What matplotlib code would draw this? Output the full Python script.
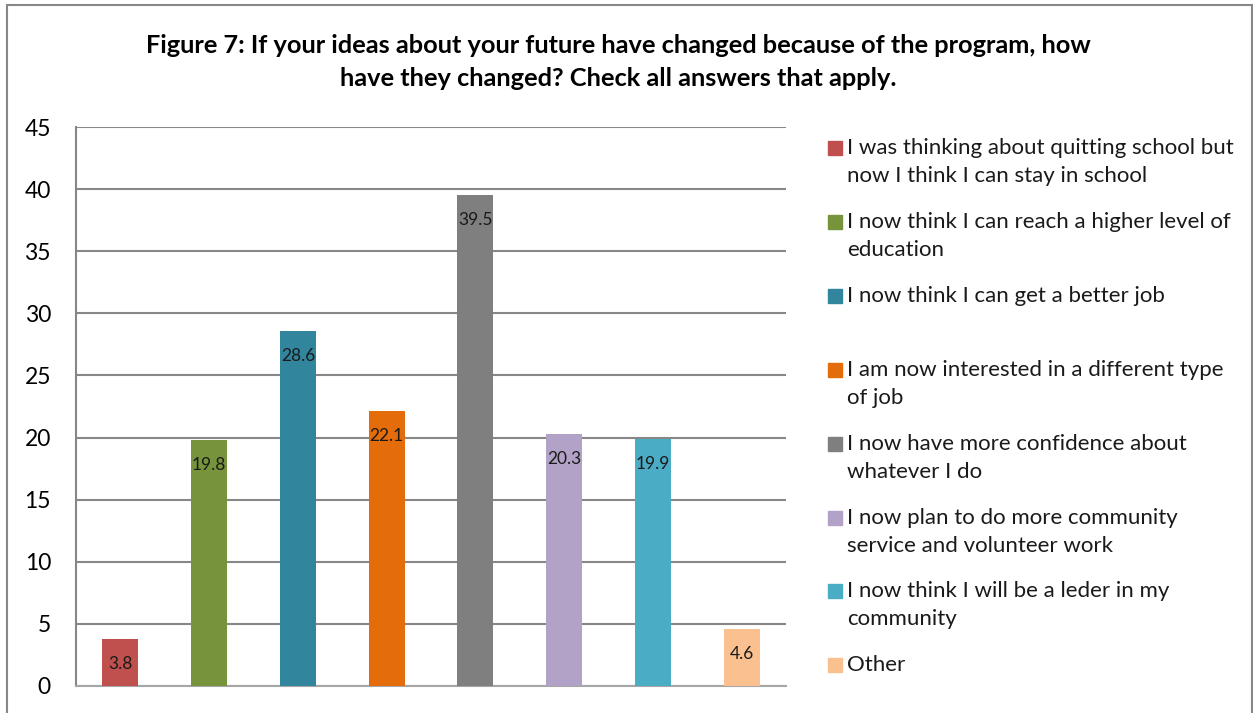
import numpy as np
import matplotlib
matplotlib.use("Agg")
import matplotlib.pyplot as plt
from matplotlib.patches import Rectangle

# data
answers = [
    "I was thinking about quitting school but\nnow I think I can stay in school",
    "I now think I can reach a higher level of\neducation",
    "I now think I can get a better job",
    "I am now interested in a different type\nof job",
    "I now have more confidence about\nwhatever I do",
    "I now plan to do more community\nservice and volunteer work",
    "I now think I will be a leder in my\ncommunity",
    "Other",
]
percents = [3.8, 19.8, 28.6, 22.1, 39.5, 20.3, 19.9, 4.6]
colors = ["#C0504D", "#77933C", "#31859C", "#E46C0A",
          "#7F7F7F", "#B3A2C7", "#4BACC6", "#FAC090"]
y_ticks = [0, 5, 10, 15, 20, 25, 30, 35, 40, 45]

title = ("Figure 7: If your ideas about your future have changed because of the program, how\n"
         "have they changed? Check all answers that apply.")

plt.rcParams["font.family"] = ["Lato", "DejaVu Sans"]

W, H = 1253, 713
fig = plt.figure(figsize=(W / 100, H / 100), dpi=100)

# outer chart border
fig.add_artist(Rectangle((7 / W, -0.05), (W - 8) / W, 1.05 - 5 / H,
                         transform=fig.transFigure, fill=False,
                         edgecolor="#878787", linewidth=1.5))

fig.text(618 / W, 1 - 62 / H, title, ha="center", va="center",
         fontsize=18.3, fontweight="bold", linespacing=1.5)

ax = fig.add_axes([76 / W, 1 - 686 / H, 710 / W, 559 / H])
x = np.arange(len(percents))
bars = ax.bar(x, percents, width=0.405, color=colors, zorder=3)
ax.set_xlim(-0.5, len(percents) - 0.5)
ax.set_ylim(0, 45)
ax.set_yticks(y_ticks)
ax.set_xticks([])
ax.tick_params(axis="y", length=0, pad=18, labelsize=16.5)
ax.yaxis.grid(True, color="#878787", linewidth=1.5, zorder=0)
for side in ["top", "right"]:
    ax.spines[side].set_visible(False)
ax.spines["left"].set_color("#878787")
ax.spines["left"].set_linewidth(1.5)
ax.spines["bottom"].set_color("#A6A6A6")
ax.spines["bottom"].set_linewidth(1.5)

for b, v in zip(bars, percents):
    ax.annotate(f"{v}", (b.get_x() + b.get_width() / 2, v),
                xytext=(0, -18), textcoords="offset points",
                ha="center", va="center", fontsize=12.5, color="#1a1a1a", zorder=4)

# legend drawn by hand, Excel style
for i, (lab, c) in enumerate(zip(answers, colors)):
    yy = 1 - (148 + i * 73.9) / H
    fig.add_artist(Rectangle((828 / W, yy - 7 / H), 14 / W, 14 / H,
                             transform=fig.transFigure, color=c))
    for j, ln in enumerate(lab.split("\n")):
        fig.text(847 / W, yy - j * 28 / H, ln, ha="left", va="center",
                 fontsize=16, color="#1a1a1a")

fig.savefig("out.png", dpi=100, facecolor="white")
